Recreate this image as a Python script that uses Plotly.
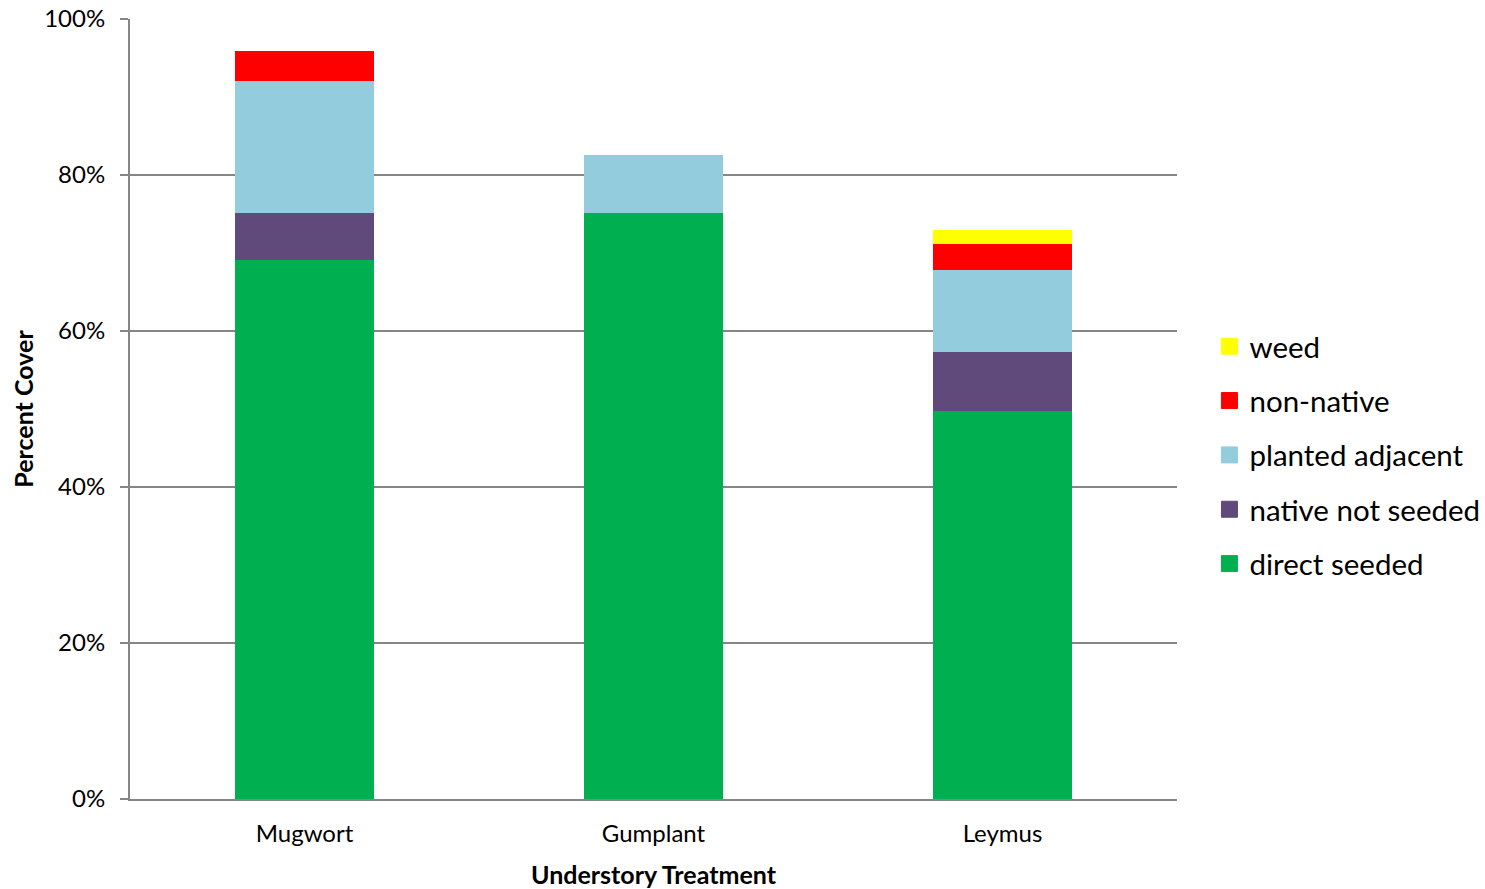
import plotly.graph_objects as go

categories = ["Mugwort", "Gumplant", "Leymus"]
direct_seeded = [69.1, 75.1, 49.7]
native_not_seeded = [6.0, 0.0, 7.6]
planted_adjacent = [17.0, 7.5, 10.5]
non_native = [3.8, 0.0, 3.4]
weed = [0.0, 0.0, 1.8]
y_ticks = [0, 20, 40, 60, 80, 100]
y_tick_labels = ["0%", "20%", "40%", "60%", "80%", "100%"]

series = [
    ("direct seeded", direct_seeded, "#00B050"),
    ("native not seeded", native_not_seeded, "#604A7B"),
    ("planted adjacent", planted_adjacent, "#93CDDD"),
    ("non-native", non_native, "#FF0000"),
    ("weed", weed, "#FFFF00"),
]

FONT = "Lato, 'Open Sans', sans-serif"

fig = go.Figure()
for name, vals, color in series:
    fig.add_trace(go.Bar(
        x=categories, y=vals, name=name, marker=dict(color=color, line=dict(width=0)),
        showlegend=False, legendgroup=name,
    ))
for name, vals, color in reversed(series):
    fig.add_trace(go.Scatter(
        x=[None], y=[None], mode="markers", name=name, legendgroup=name,
        marker=dict(symbol="square", size=16, color=color, line=dict(color=color, width=1)),
        showlegend=True,
    ))

fig.update_layout(
    width=1485, height=889,
    barmode="stack", bargap=0.6,
    paper_bgcolor="white", plot_bgcolor="white",
    margin=dict(l=130, r=308, t=19, b=90, autoexpand=False),
    font=dict(family=FONT, color="#000000"),
    legend=dict(
        x=1.031, y=0.441, xanchor="left", yanchor="middle",
        traceorder="grouped", tracegroupgap=13,
        font=dict(size=29.5, family=FONT), itemwidth=30,
        bgcolor="rgba(0,0,0,0)",
    ),
    xaxis=dict(
        type="category", categoryorder="array", categoryarray=categories,
        showline=True, linecolor="#868686", linewidth=2,
        ticks="", tickfont=dict(size=24, family=FONT), ticklabelstandoff=12,
        title=dict(text="<b>Understory Treatment</b>", font=dict(size=25, family=FONT), standoff=21),
        showgrid=False, zeroline=False, fixedrange=True, automargin=False,
    ),
    yaxis=dict(
        range=[0, 100], tickvals=y_ticks, ticktext=y_tick_labels,
        showline=True, linecolor="#868686", linewidth=2,
        ticks="outside", ticklen=8, tickcolor="#868686", tickwidth=2,
        tickfont=dict(size=24, family=FONT), ticklabelstandoff=10,
        showgrid=True, gridcolor="#868686", gridwidth=2,
        zeroline=False,
        title=dict(text="<b>Percent Cover</b>", font=dict(size=25, family=FONT), standoff=3),
        fixedrange=True, automargin=False,
    ),
)

fig.write_html("out.html")
